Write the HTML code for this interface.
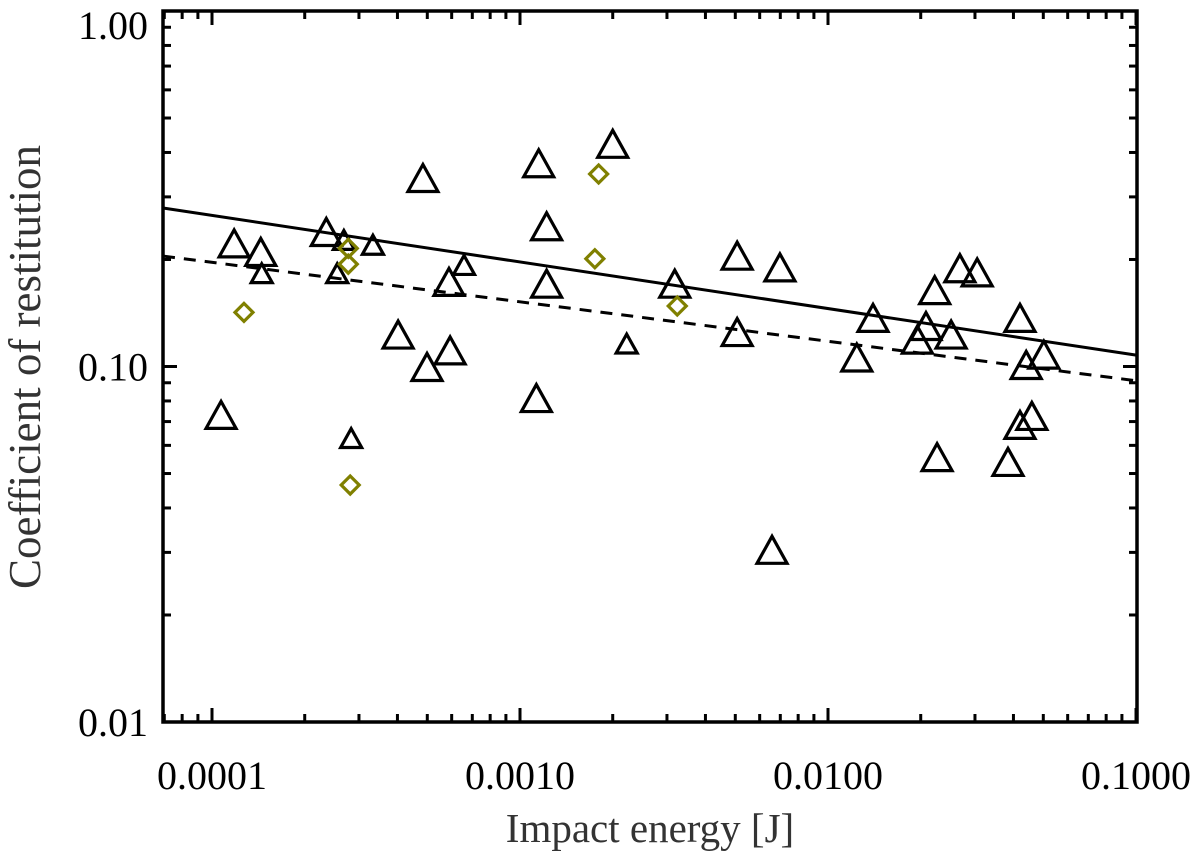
<!DOCTYPE html>
<html><head><meta charset="utf-8"><style>
body{margin:0;background:#fff;}
svg{display:block;font-family:"Liberation Serif",serif;}
</style></head><body>
<svg id="chart" width="1200" height="866" viewBox="0 0 1200 866" xmlns="http://www.w3.org/2000/svg">
<g id="plot"></g>
</svg>
<script>
const bigTriX=[1.07e-4,1.18e-4,1.44e-4,2.35e-4,4.84e-4,1.15e-3,1.22e-3,1.22e-3,2.00e-3,1.13e-3,4.02e-4,4.99e-4,5.88e-4,5.93e-4,3.18e-3,5.07e-3,5.07e-3,6.98e-3,0.0124,0.0140,0.0195,0.0208,0.0222,0.0251,0.0226,0.0268,0.0305,0.0384,0.0420,0.0440,0.0420,0.0459,0.0502,6.58e-3];
const bigTriY=[0.0731,0.222,0.210,0.239,0.339,0.373,0.248,0.171,0.423,0.0815,0.123,0.0997,0.173,0.111,0.171,0.205,0.125,0.190,0.106,0.137,0.119,0.130,0.164,0.123,0.0556,0.189,0.184,0.0539,0.137,0.101,0.0685,0.0726,0.108,0.0305];
const smallTriX=[1.45e-4,2.55e-4,2.68e-4,3.33e-4,6.58e-4,2.83e-4,2.22e-3];
const smallTriY=[0.183,0.183,0.227,0.220,0.193,0.0629,0.116];
const diamondX=[1.27e-4,2.77e-4,2.77e-4,2.81e-4,1.80e-3,1.75e-3,3.24e-3];
const diamondY=[0.142,0.215,0.194,0.0464,0.348,0.201,0.148];
const fitSolid=[-1.099,-0.131];   // log10(y) = a + b*log10(x)
const fitDashed=[-1.151,-0.111];
const xTickVals=[0.0001,0.001,0.01,0.1];
const xTickLabels=["0.0001","0.0010","0.0100","0.1000"];
const yTickVals=[0.01,0.1,1];
const yTickLabels=["0.01","0.10","1.00"];

const L=163,R=1137,T=11,B=722;
const xMinLog=-4.1591, xMaxLog=-0.9968, yMinLog=-2, yMaxLog=0;
const xs=v=>L+(Math.log10(v)-xMinLog)/(xMaxLog-xMinLog)*(R-L);
const ys=v=>B-(Math.log10(v)-yMinLog)/(yMaxLog-yMinLog)*(B-T);
const NS="http://www.w3.org/2000/svg";
const g=document.getElementById('plot');
function mk(tag,attrs){const e=document.createElementNS(NS,tag);for(const k in attrs)e.setAttribute(k,attrs[k]);g.appendChild(e);return e;}

let fr=mk('rect',{x:L,y:T,width:R-L,height:B-T,fill:'none',stroke:'#000','stroke-width':3.5});



for(let d=-5;d<=-1;d++){for(let m=1;m<10;m++){const v=m*Math.pow(10,d);const lv=Math.log10(v);if(lv<xMinLog||lv>xMaxLog)continue;const x=xs(v);const len=m===1?14:8;
 let t=mk('line',{x1:x,x2:x,y1:B,y2:B-len,stroke:'#000','stroke-width':3});
 
 
 let t2=mk('line',{x1:x,x2:x,y1:T,y2:T+len,stroke:'#000','stroke-width':3});
 
 }}
for(let d=-2;d<=0;d++){for(let m=1;m<10;m++){const v=m*Math.pow(10,d);if(Math.log10(v)>yMaxLog+1e-9)continue;const y=ys(v);const len=m===1?14:8;
 let t=mk('line',{x1:L,x2:L+len,y1:y,y2:y,stroke:'#000','stroke-width':3});
 
 
 let t2=mk('line',{x1:R,x2:R-len,y1:y,y2:y,stroke:'#000','stroke-width':3});
 
 }}
xTickVals.forEach((v,i)=>{let t=mk('text',{x:xs(v),y:789,'text-anchor':'middle','font-size':40,fill:'#000'});t.textContent=xTickLabels[i];
 
 });
yTickVals.forEach((v,i)=>{let t=mk('text',{x:148,y:Math.max(ys(v)+14,39),'text-anchor':'end','font-size':40,fill:'#000'});t.textContent=yTickLabels[i];
 
 });
let xt=mk('text',{x:650,y:842,'text-anchor':'middle','font-size':41,fill:'#333'});xt.textContent='Impact energy [J]';


let yt=mk('text',{x:0,y:0,'text-anchor':'middle','font-size':45,fill:'#333',transform:'translate(40,367) rotate(-90)'});yt.textContent='Coefficient of restitution';



function fitLine(a,b,dash,name){const x0=Math.pow(10,xMinLog),x1=Math.pow(10,xMaxLog);
 const y0=Math.pow(10,a+b*xMinLog),y1=Math.pow(10,a+b*xMaxLog);
 let l=mk('line',{x1:xs(x0),y1:ys(y0),x2:xs(x1),y2:ys(y1),stroke:'#000','stroke-width':3,'stroke-dasharray':dash});
 
 }
fitLine(fitSolid[0],fitSolid[1],'none','fit-line-solid');
fitLine(fitDashed[0],fitDashed[1],'12,9','fit-line-dashed');

function tri(x,y,w,name){const cx=xs(x),cy=ys(y),h=w*0.9;
 let p=mk('polygon',{points:`${cx-w/2},${cy+h/2} ${cx+w/2},${cy+h/2} ${cx},${cy-h/2}`,fill:'none',stroke:'#000','stroke-width':3.2});
 
 }
bigTriX.forEach((x,i)=>tri(x,bigTriY[i],30,'triangle-point'));
smallTriX.forEach((x,i)=>tri(x,smallTriY[i],21,'small-triangle-point'));
diamondX.forEach((x,i)=>{const cx=xs(x),cy=ys(diamondY[i]),r=9;
 let p=mk('polygon',{points:`${cx},${cy-r} ${cx+r},${cy} ${cx},${cy+r} ${cx-r},${cy}`,fill:'none',stroke:'#808000','stroke-width':3.2});
 
 });
</script>
</body></html>
